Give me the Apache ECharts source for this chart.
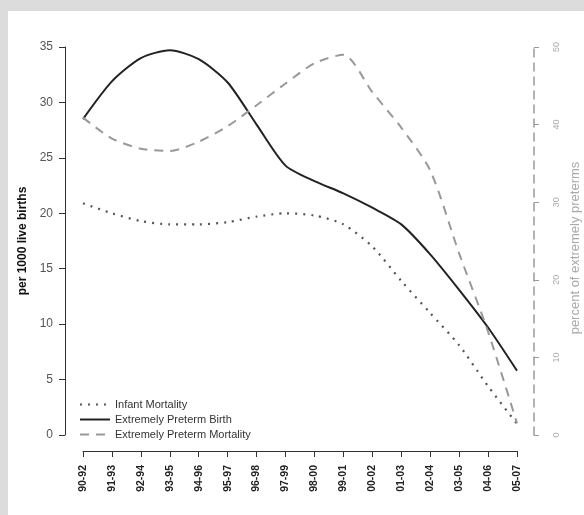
<!DOCTYPE html>
<html>
<head>
<meta charset="utf-8">
<script src="https://cdn.jsdelivr.net/npm/echarts@6/dist/echarts.min.js"></script>
<style>
html,body{margin:0;padding:0;background:#dcdcdc;}
#wrap{position:absolute;left:8px;top:11px;width:576px;height:504px;background:#fff;}
#chart{position:absolute;left:0;top:0;width:584px;height:515px;}
</style>
</head>
<body>
<div id="wrap"></div>
<div id="chart"></div>
<script>
const categories = ['90-92','91-93','92-94','93-95','94-96','95-97','96-98','97-99','98-00','99-01','00-02','01-03','02-04','03-05','04-06','05-07'];
const infantMortality = [20.9, 20.0, 19.3, 19.0, 19.0, 19.2, 19.7, 20.0, 19.8, 19.0, 17.0, 13.9, 11.0, 8.1, 4.4, 1.0];
const pretermBirth = [28.5, 31.9, 34.0, 34.7, 33.9, 31.8, 28.0, 24.3, 22.9, 21.8, 20.5, 19.0, 16.3, 13.1, 9.7, 5.8];
const pretermMortality = [40.9, 38.2, 36.9, 36.6, 37.8, 39.8, 42.5, 45.3, 47.9, 49.0, 44.2, 39.6, 34.1, 23.4, 13.3, 1.5];
const leftTicks = {min: 0, max: 35, interval: 5};
const rightTicks = {min: 0, max: 50, interval: 10};

const chart = echarts.init(document.getElementById('chart'), null, {renderer: 'canvas'});
const font = 'Liberation Sans, Arial, sans-serif';
chart.setOption({
  backgroundColor: 'transparent',
  textStyle: {fontFamily: font},
  animation: false,
  grid: {left: 83, right: 67, top: 47, bottom: 80, containLabel: false, outerBoundsMode: 'none'},
  legend: {
    left: 74, top: 394, orient: 'vertical', itemGap: 4,
    itemWidth: 30, itemHeight: 10,
    itemStyle: {opacity: 0},
    textStyle: {fontSize: 11, color: '#333', fontFamily: font},
    data: ['Infant Mortality', 'Extremely Preterm Birth', 'Extremely Preterm Mortality']
  },
  xAxis: {
    type: 'category', data: categories, boundaryGap: false, offset: 16,
    axisLine: {onZero: false, lineStyle: {color: '#333', width: 1}},
    axisTick: {length: 6, lineStyle: {color: '#333'}, alignWithLabel: true},
    axisLabel: {rotate: 90, margin: 14, fontSize: 10.5, fontWeight: 'bold', color: '#222', interval: 0, fontFamily: font},
    splitLine: {show: false}
  },
  yAxis: [
    {
      type: 'value', position: 'left', offset: 18,
      min: leftTicks.min, max: leftTicks.max, interval: leftTicks.interval,
      name: 'per 1000 live births', nameLocation: 'middle', nameGap: 30, nameRotate: 90,
      nameTextStyle: {fontSize: 12, fontWeight: 'bold', color: '#111', fontFamily: font},
      axisLine: {show: true, onZero: false, lineStyle: {color: '#333', width: 1}},
      axisTick: {show: true, length: 6, lineStyle: {color: '#333'}},
      axisLabel: {margin: 12, fontSize: 12, color: '#555', fontFamily: font},
      splitLine: {show: false}
    },
    {
      type: 'value', position: 'right', offset: 17,
      min: rightTicks.min, max: rightTicks.max, interval: rightTicks.interval,
      name: 'percent of extremely preterms', nameLocation: 'middle', nameGap: 20, nameRotate: 90,
      nameTextStyle: {fontSize: 13, color: '#aaa', fontFamily: font, padding: [0, 14, 0, 0]},
      axisLine: {show: true, onZero: false, lineStyle: {color: '#999', width: 1.5, type: [8, 6]}},
      axisTick: {show: true, length: 5, lineStyle: {color: '#999'}},
      axisLabel: {rotate: 90, margin: 18, fontSize: 9, color: '#aaa', fontFamily: font},
      splitLine: {show: false}
    }
  ],
  series: [
    {
      name: 'Infant Mortality', type: 'line', yAxisIndex: 0, data: infantMortality,
      smooth: 0.25, symbol: 'none', color: '#555',
      lineStyle: {color: '#555', width: 2.2, type: [2, 6]}
    },
    {
      name: 'Extremely Preterm Birth', type: 'line', yAxisIndex: 0, data: pretermBirth,
      smooth: 0.25, symbol: 'none', color: '#222',
      lineStyle: {color: '#222', width: 2}
    },
    {
      name: 'Extremely Preterm Mortality', type: 'line', yAxisIndex: 1, data: pretermMortality,
      smooth: 0.25, symbol: 'none', color: '#999',
      lineStyle: {color: '#999', width: 2, type: [9, 7]}
    }
  ]
});
</script>
</body>
</html>
